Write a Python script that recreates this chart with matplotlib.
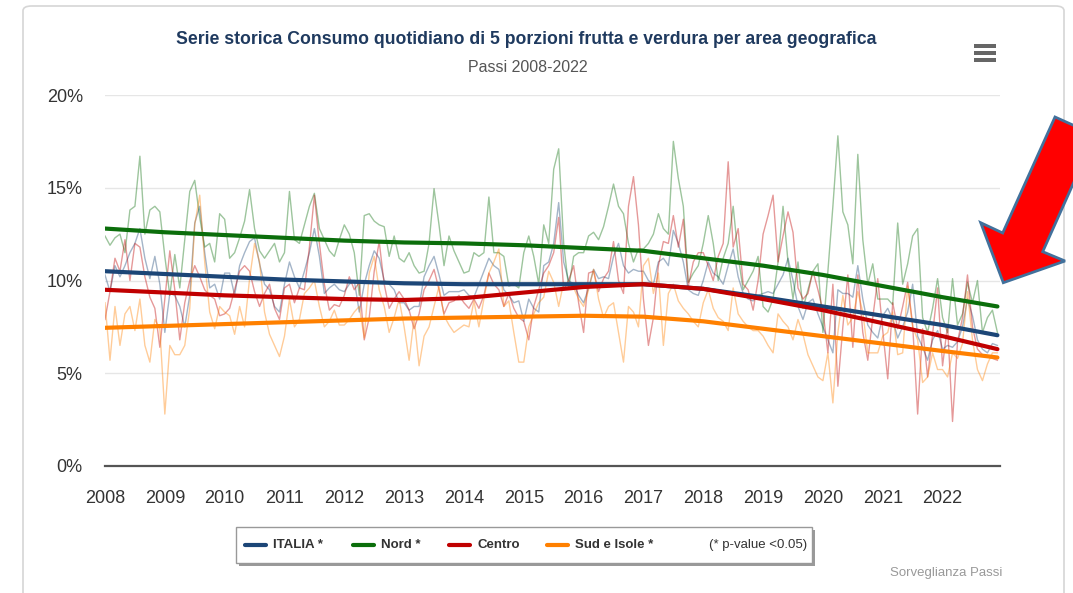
import numpy as np
import matplotlib
matplotlib.use("Agg")
import matplotlib.pyplot as plt
from matplotlib.patches import FancyBboxPatch, Rectangle, Polygon
from matplotlib.lines import Line2D

plt.rcParams['font.family'] = ['Liberation Sans', 'DejaVu Sans']

W, H = 1073, 593

# monthly values, Jan 2008 .. Dec 2022 (%)
italia = [
    10.3, 9.4, 10.8, 10.2, 10.8, 11.5, 12.0, 12.8, 11.2, 10.1, 11.3, 9.8,
    7.2, 9.3, 9.2, 8.6, 7.5, 9.2, 13.1, 14.0, 11.5, 9.6, 9.8, 9.0,
    10.4, 10.4, 9.2, 10.8, 11.5, 12.1, 12.3, 10.9, 9.8, 9.5, 8.6, 8.3,
    9.8, 11.0, 10.2, 9.6, 10.5, 11.5, 12.8, 11.3, 9.3, 9.6, 9.8, 9.5,
    9.4, 9.8, 10.0, 8.3, 9.8, 10.8, 11.6, 11.2, 10.0, 9.8, 9.5, 8.8,
    8.8, 8.4, 8.6, 8.6, 10.2, 10.8, 11.3, 10.3, 9.2, 9.4, 9.4, 9.4,
    9.5, 9.2, 9.1, 9.8, 10.5, 11.2, 10.8, 10.6, 9.5, 9.2, 8.8, 8.9,
    7.8, 9.0, 8.5, 8.3, 10.8, 11.0, 12.0, 14.2, 11.0, 10.0, 9.8, 9.2,
    8.8, 9.6, 10.6, 10.1, 10.2, 10.1, 11.3, 12.0, 10.8, 10.4, 10.6, 10.5,
    10.5, 10.0, 9.8, 11.0, 11.2, 10.8, 12.7, 12.0, 11.0, 9.5, 9.3, 9.2,
    10.0, 11.0, 10.4, 10.2, 9.8, 10.8, 11.7, 10.2, 9.3, 9.0, 8.9, 9.2,
    9.3, 9.4, 9.3, 9.8, 10.3, 11.2, 10.0, 8.6, 7.9, 8.8, 9.0, 8.2,
    7.5, 6.8, 6.1, 9.5, 9.3, 9.3, 9.1, 10.8, 9.0, 7.6, 7.2, 6.9,
    8.1, 8.5, 7.9, 6.9, 7.5, 8.3, 9.8, 7.0, 6.4, 5.7, 6.8, 7.3,
    6.3, 6.5, 6.4, 6.7, 7.5, 9.0, 8.1, 6.8, 6.3, 6.1, 6.6, 6.5,
]
nord = [
    12.4, 11.9, 12.3, 12.5, 11.5, 13.8, 14.0, 16.7, 12.5, 13.8, 14.0, 13.7,
    11.3, 9.2, 11.4, 9.6, 12.2, 14.8, 15.4, 13.4, 11.8, 12.0, 11.0, 13.6,
    13.3, 11.2, 11.5, 12.3, 13.2, 14.9, 12.8, 11.6, 11.2, 11.6, 12.0, 11.0,
    11.5, 14.8, 12.2, 12.0, 13.0, 14.0, 14.7, 12.8, 12.2, 11.6, 11.3, 12.2,
    13.0, 12.5, 11.5, 9.2, 13.5, 13.6, 13.2, 13.0, 12.9, 11.3, 12.4, 11.2,
    11.0, 11.5, 10.8, 10.4, 10.5, 12.0, 14.95, 13.0, 10.8, 12.4, 11.6, 11.0,
    10.4, 10.5, 11.5, 11.3, 11.5, 14.5, 11.5, 11.5, 11.3, 9.7, 9.8, 9.6,
    11.5, 12.4, 11.3, 9.8, 13.0, 12.0, 16.0, 17.1, 12.0, 9.6, 11.3, 11.5,
    11.5, 12.4, 12.6, 12.2, 12.9, 14.0, 15.2, 14.0, 13.6, 12.0, 11.0, 11.7,
    11.7, 12.0, 12.5, 13.6, 12.8, 12.5, 17.5, 15.5, 14.0, 9.9, 10.4, 10.8,
    12.0, 13.5, 12.0, 10.0, 11.2, 12.0, 14.0, 11.3, 9.5, 10.0, 10.5, 11.3,
    8.6, 8.3, 9.0, 11.0, 14.0, 11.0, 9.0, 11.0, 8.5, 9.5, 10.5, 10.9,
    7.2, 10.5, 14.0, 17.8, 13.7, 13.0, 10.9, 16.8, 12.2, 9.8, 10.9, 9.0,
    9.0, 9.0, 8.7, 13.1, 9.8, 10.9, 12.4, 12.8, 8.0, 7.2, 8.5, 10.1,
    8.0, 7.2, 10.1, 7.6, 8.2, 9.9, 8.8, 10.0, 7.2, 8.0, 8.4, 7.2,
]
centro = [
    7.9, 9.4, 11.2, 10.5, 12.2, 10.0, 12.0, 11.8, 10.2, 9.1, 8.5, 6.4,
    9.0, 11.6, 9.5, 6.8, 8.8, 10.0, 10.8, 10.2, 9.5, 9.2, 9.0, 8.1,
    8.2, 8.5, 9.5, 10.5, 10.8, 10.5, 9.4, 8.6, 9.3, 9.8, 8.5, 7.9,
    9.6, 9.8, 8.8, 9.6, 9.5, 11.8, 14.6, 12.0, 9.8, 8.4, 8.7, 8.6,
    9.2, 10.2, 9.5, 9.9, 6.8, 8.0, 10.5, 12.1, 9.8, 8.5, 9.0, 9.4,
    9.0, 8.4, 7.4, 8.2, 9.5, 10.0, 10.6, 9.5, 8.2, 8.8, 8.9, 9.2,
    8.8, 8.5, 9.0, 8.5, 9.2, 10.4, 9.8, 9.5, 8.6, 9.3, 8.5, 8.0,
    7.8, 6.8, 8.6, 9.5, 10.4, 10.8, 11.5, 13.4, 9.5, 10.0, 10.8, 8.8,
    7.2, 10.4, 10.5, 9.4, 10.1, 10.5, 12.1, 10.0, 9.3, 14.0, 15.6, 13.0,
    9.0, 6.5, 8.0, 10.8, 12.1, 12.0, 13.5, 11.8, 13.3, 9.7, 11.0, 11.5,
    11.5, 10.8, 10.0, 11.3, 12.0, 16.4, 11.8, 12.8, 9.8, 9.5, 8.4, 10.0,
    12.5, 13.5, 14.6, 11.0, 12.4, 13.7, 12.6, 9.6, 9.0, 9.3, 10.5, 9.5,
    8.4, 6.1, 9.8, 4.3, 7.5, 10.3, 6.4, 10.3, 7.2, 5.7, 8.0, 10.1,
    7.3, 4.7, 8.8, 7.4, 8.6, 9.9, 7.6, 2.8, 7.4, 4.8, 7.1, 9.6,
    5.4, 7.6, 2.4, 6.7, 8.0, 10.3, 7.5, 6.3, 6.0, 5.9, 5.8, 5.7,
]
sud = [
    8.8, 5.7, 8.6, 6.5, 8.2, 8.6, 7.3, 9.0, 6.5, 5.6, 7.9, 7.4,
    2.8, 6.5, 6.0, 6.0, 6.5, 8.5, 13.0, 14.6, 11.0, 8.3, 7.4, 8.6,
    8.3, 8.1, 7.1, 8.6, 7.5, 10.1, 12.0, 11.0, 8.3, 7.1, 6.5, 5.9,
    7.0, 9.0, 7.5, 7.9, 9.3, 9.6, 10.0, 8.6, 7.5, 7.8, 8.4, 7.6,
    7.6, 7.9, 8.3, 8.6, 6.9, 10.4, 11.3, 9.5, 8.6, 7.2, 8.0, 9.0,
    7.5, 5.7, 8.0, 5.4, 7.0, 7.5, 8.6, 9.7, 8.1, 7.6, 7.2, 7.4,
    7.6, 7.5, 8.9, 7.5, 9.0, 10.4, 11.0, 11.7, 8.6, 8.9, 7.2, 5.6,
    5.6, 7.5, 8.2, 8.8, 9.1, 10.5, 9.9, 8.6, 9.9, 9.8, 9.6, 9.0,
    8.6, 9.5, 10.6, 9.0, 8.0, 8.6, 8.8, 7.2, 5.6, 8.6, 8.3, 7.5,
    10.8, 11.2, 9.3, 10.4, 6.5, 9.3, 9.8, 8.9, 8.5, 8.2, 7.8, 7.5,
    8.8, 9.5, 8.5, 8.0, 7.8, 7.3, 9.6, 8.2, 7.8, 7.5, 7.3, 7.3,
    7.0, 6.5, 6.1, 8.2, 7.8, 7.5, 6.8, 7.9, 7.1, 6.0, 5.4, 4.8,
    4.6, 6.1, 3.4, 7.2, 9.2, 7.6, 8.0, 9.4, 8.3, 6.1, 6.1, 6.1,
    7.0, 7.2, 8.3, 6.0, 6.1, 9.7, 7.5, 6.8, 4.5, 4.8, 6.1, 5.2,
    5.2, 4.8, 6.1, 5.8, 6.6, 9.4, 6.8, 5.2, 4.6, 5.5, 6.1, 6.1,
]

# trend values at the start of each year, last one at Dec 2022
trend_x = [2008, 2009, 2010, 2011, 2012, 2013, 2014, 2015, 2016, 2017,
           2018, 2019, 2020, 2021, 2022, 2022.917]
trend_italia = [10.5, 10.35, 10.2, 10.05, 9.95, 9.85, 9.8, 9.8, 9.8, 9.8,
                9.55, 9.1, 8.6, 8.1, 7.6, 7.05]
trend_nord = [12.8, 12.6, 12.45, 12.3, 12.15, 12.05, 12.0, 11.9, 11.75, 11.6,
              11.2, 10.8, 10.3, 9.7, 9.1, 8.6]
trend_centro = [9.5, 9.35, 9.2, 9.1, 9.0, 8.95, 9.05, 9.35, 9.65, 9.8,
                9.55, 9.0, 8.4, 7.7, 7.0, 6.3]
trend_sud = [7.45, 7.55, 7.65, 7.75, 7.85, 7.95, 8.0, 8.05, 8.1, 8.05,
             7.8, 7.4, 7.0, 6.6, 6.2, 5.85]

labels = ['ITALIA *', 'Nord *', 'Centro', 'Sud e Isole *']
colors = ['#1c4677', '#0b6e0b', '#c00000', '#ff8000']
years = list(range(2008, 2023))
yticks = [0, 5, 10, 15, 20]

months = 2008 + np.arange(len(italia)) / 12.0
series = [italia, nord, centro, sud]
trends = [trend_italia, trend_nord, trend_centro, trend_sud]


def fx(x):
    return x / W


def fy(y):
    return 1 - y / H


fig = plt.figure(figsize=(W / 100, H / 100), dpi=100)

# card background
card = FancyBboxPatch((fx(23), fy(598)), fx(1064) - fx(23), fy(6) - fy(598),
                      boxstyle="round,pad=0,rounding_size=0.008",
                      transform=fig.transFigure, facecolor='white',
                      edgecolor='#d6d6d6', linewidth=1.2, zorder=-1)
fig.patches.append(card)

ax = fig.add_axes([fx(105), fy(466), fx(1000) - fx(105), fy(95) - fy(466)])
ax.set_facecolor('none')
ax.set_zorder(1)
ax.set_xlim(2008, 2022.96)
ax.set_ylim(0, 20)

for s, c in zip(series, colors):
    ax.plot(months, s, color=c, lw=1.0, alpha=0.4, zorder=2)
for t, c in zip(trends, colors):
    ax.plot(trend_x, t, color=c, lw=3.0, solid_capstyle='round', zorder=3)

ax.set_yticks(yticks)
ax.set_yticklabels([f'{v}%' for v in yticks])
ax.set_xticks(years)
ax.set_xticklabels([str(y) for y in years])
ax.tick_params(axis='both', length=0, labelsize=13, colors='#333333')
ax.tick_params(axis='y', pad=16)
ax.tick_params(axis='x', pad=17)
for v in yticks[1:]:
    ax.axhline(v, color='#e6e6e6', lw=1, zorder=1)
for sp in ['top', 'right', 'left']:
    ax.spines[sp].set_visible(False)
ax.spines['bottom'].set_color('#555555')
ax.spines['bottom'].set_linewidth(1.6)

# titles
fig.text(fx(526), fy(40), 'Serie storica Consumo quotidiano di 5 porzioni frutta e verdura per area geografica',
         ha='center', va='center', fontsize=12.7, fontweight='bold', color='#1f3a5f')
fig.text(fx(528), fy(67), 'Passi 2008-2022', ha='center', va='center', fontsize=11.5, color='#555555')

# menu icon
for yy in [46, 53, 60]:
    fig.patches.append(Rectangle((fx(974), fy(yy + 2)), fx(996) - fx(974), fy(yy - 2) - fy(yy + 2),
                                 transform=fig.transFigure, facecolor='#666666', edgecolor='none'))

# legend box
fig.patches.append(Rectangle((fx(239), fy(566)), fx(576), fy(0) - fy(36),
                             transform=fig.transFigure, facecolor='#9a9a9a', edgecolor='none', zorder=1))
fig.patches.append(Rectangle((fx(236), fy(563)), fx(576), fy(0) - fy(36),
                             transform=fig.transFigure, facecolor='white', edgecolor='#999999', lw=1, zorder=2))
line_x = [245, 353, 449, 547]
for lx, lab, c in zip(line_x, labels, colors):
    fig.add_artist(Line2D([fx(lx), fx(lx + 21)], [fy(545), fy(545)], transform=fig.transFigure,
                          color=c, lw=3, solid_capstyle='round', zorder=3))
    fig.text(fx(lx + 28), fy(545), lab, ha='left', va='center', fontsize=9.5,
             fontweight='bold', color='#333333', zorder=3)
fig.text(fx(709), fy(545), '(* p-value <0.05)', ha='left', va='center', fontsize=9.5,
         color='#333333', zorder=3)

fig.text(fx(1002), fy(573), 'Sorveglianza Passi', ha='right', va='center', fontsize=9.5, color='#999999')

# red arrow
arrow_pts = [(1055, 117), (1095, 135), (1042.7, 251.7), (1065, 261), (1003.3, 282.7),
             (980.7, 222.7), (1002.7, 233)]
arrow = Polygon([(fx(x), fy(y)) for x, y in arrow_pts], closed=True, transform=fig.transFigure,
                facecolor='#ff0000', edgecolor='#41719c', lw=2, zorder=10)
fig.patches.append(arrow)

fig.savefig('out.png', dpi=100)
